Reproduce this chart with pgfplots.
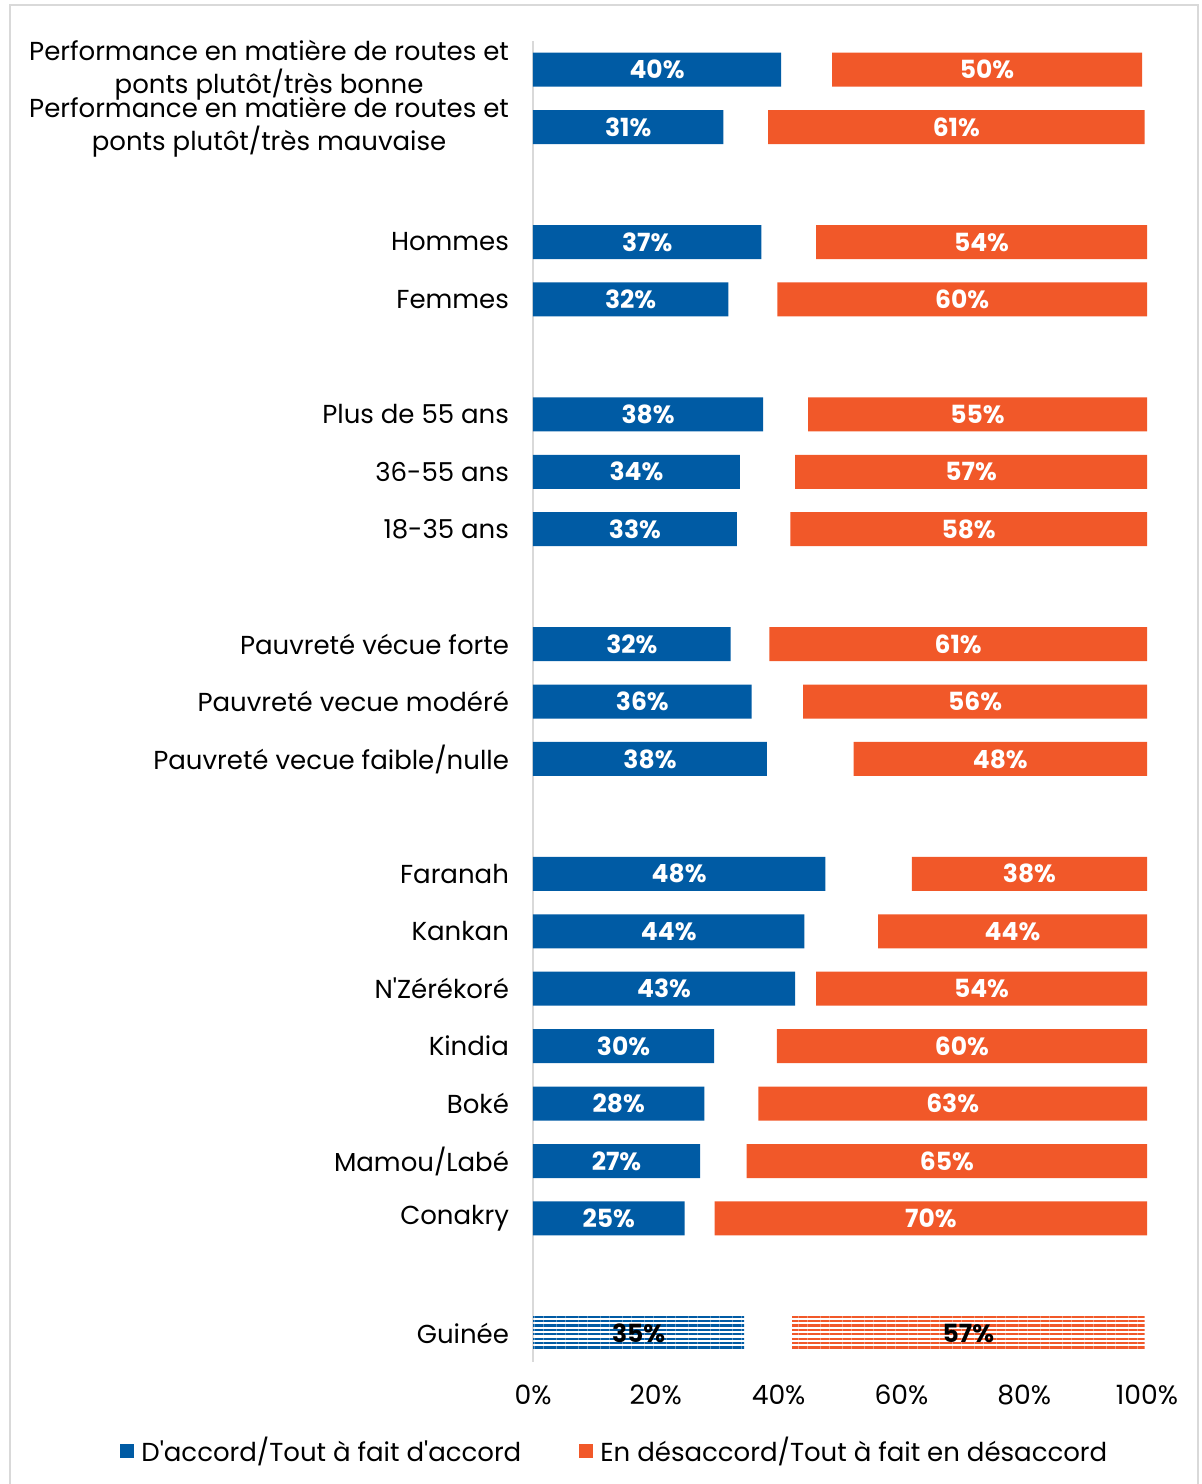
\documentclass[border=0pt]{standalone}
\usepackage{fontspec}
\setmainfont{Poppins}[Ligatures=TeXOff]
\usepackage{pgfplots}
\usepackage{pgfplotstable}
\pgfplotsset{compat=1.18}
\usetikzlibrary{patterns.meta}
\definecolor{cblue}{RGB}{0,91,164}
\definecolor{corange}{RGB}{241,88,41}
\definecolor{frame}{RGB}{217,217,217}

% y = row position, b = agree, g = gap (no answer), o = disagree, lb/lo = printed labels
\pgfplotstableread{
y  b    g    o    lb lo
0  40.4 8.3  50.5 40 50
1  31.0 7.3  61.3 31 61
3  37.2 8.9  53.9 37 54
4  31.8 8.0  60.2 32 60
6  37.5 7.3  55.2 38 55
7  33.7 9.0  57.3 34 57
8  33.2 8.7  58.1 33 58
10 32.2 6.3  61.5 32 61
11 35.6 8.4  56.0 36 56
12 38.1 14.1 47.8 38 48
14 47.6 14.1 38.3 48 38
15 44.2 12.0 43.8 44 44
16 42.7 3.4  53.9 43 54
17 29.5 10.2 60.3 30 60
18 27.9 8.8  63.3 28 63
19 27.2 7.6  65.2 27 65
20 24.7 4.9  70.4 25 70
}\data
\pgfplotstableread{
y  b    g    o    lb lo
22 34.4 7.8  57.4 35 57
}\guinee

\newcommand{\lblfont}{\fontsize{13}{16.5}\selectfont}
\pgfplotsset{
  common/.style={
    at={(266.5pt,-681pt)}, anchor=south west,
    width=307pt, height=660.5pt, scale only axis,
    xmin=0, xmax=100, ymin=-0.5, ymax=22.5, y dir=reverse,
    /pgf/number format/assume math mode=true,
  }
}

\begin{document}
\begin{tikzpicture}
\useasboundingbox (0,0) rectangle (601pt,-742pt);
\draw[frame, line width=1pt] (5pt,-760pt) -- (5pt,-2.5pt) -- (599pt,-2.5pt) -- (599pt,-760pt);

% bars
\begin{axis}[common,
  xbar stacked, bar width=17pt,
  axis x line*=bottom, axis y line*=left,
  x axis line style={draw=none},
  y axis line style={draw=frame, line width=1pt},
  major tick length=0pt,
  xtick={0,20,40,60,80,100},
  xticklabels={0\%,20\%,40\%,60\%,80\%,100\%},
  xticklabel style={font=\fontsize{13.3}{16}\selectfont, yshift=-8pt},
  ytick={0,1,3,4,6,7,8,10,11,12,14,15,16,17,18,19,20,22},
  yticklabels={
    {Performance en matière de routes et\\ponts plutôt/très bonne},
    {Performance en matière de routes et\\ponts plutôt/très mauvaise},
    Hommes, Femmes,
    Plus de 55 ans, 36-55 ans, 18-35 ans,
    Pauvreté vécue forte, Pauvreté vecue modéré, Pauvreté vecue faible/nulle,
    Faranah, Kankan, N'Zérékoré, Kindia, Boké, Mamou/Labé, Conakry,
    Guinée},
  yticklabel style={font=\lblfont, align=center, xshift=-8.5pt},
]
\addplot[fill=cblue, draw=none] table[x=b, y=y] \data;
\addplot[fill=none, draw=none] table[x=g, y=y] \data;
\addplot[fill=corange, draw=none] table[x=o, y=y] \data;
\end{axis}

% Guinée (patterned)
\begin{axis}[common, hide axis, xbar stacked, bar width=17pt]
\addplot[draw=none, pattern={Lines[angle=0,distance=2.2pt,line width=1.1pt]}, pattern color=cblue] table[x=b, y=y] \guinee;
\addplot[fill=none, draw=none] table[x=g, y=y] \guinee;
\addplot[draw=none, pattern={Lines[angle=0,distance=2.2pt,line width=1.1pt]}, pattern color=corange] table[x=o, y=y] \guinee;
\end{axis}

% value labels
\begin{axis}[common, hide axis,
  nodes near coords={\pgfmathprintnumber[fixed,precision=0]{\pgfplotspointmeta}\%},
  point meta=explicit,
  every node near coord/.style={anchor=center, font=\bfseries\fontsize{12.5}{14}\selectfont, text=white},
]
\addplot[draw=none, mark=none] table[x expr=\thisrow{b}/2, y=y, meta=lb] \data;
\addplot[draw=none, mark=none] table[x expr=\thisrow{b}+\thisrow{g}+\thisrow{o}/2, y=y, meta=lo] \data;
\addplot[draw=none, mark=none, every node near coord/.append style={text=black}] table[x expr=\thisrow{b}/2, y=y, meta=lb] \guinee;
\addplot[draw=none, mark=none, every node near coord/.append style={text=black}] table[x expr=\thisrow{b}+\thisrow{g}+\thisrow{o}/2, y=y, meta=lo] \guinee;
\end{axis}

% legend
\fill[cblue] (60pt,-729pt) rectangle (67pt,-722pt);
\node[anchor=base west, inner sep=0pt, font=\lblfont] at (70.5pt,-730.5pt) {D'accord/Tout à fait d'accord};
\fill[corange] (289.5pt,-729pt) rectangle (296.5pt,-722pt);
\node[anchor=base west, inner sep=0pt, font=\lblfont] at (300pt,-730.5pt) {En désaccord/Tout à fait en désaccord};
\end{tikzpicture}
\end{document}
